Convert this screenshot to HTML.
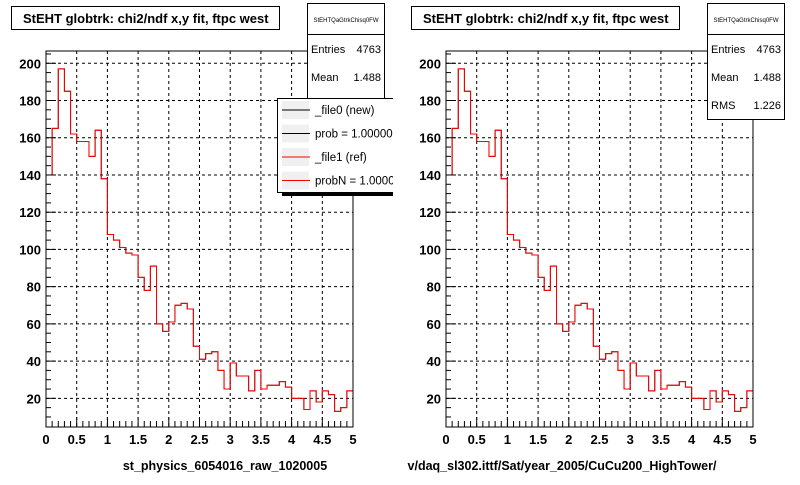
<!DOCTYPE html>
<html><head><meta charset="utf-8"><style>
body{margin:0;background:#fff;width:800px;height:480px;overflow:hidden}
svg text{font-family:"Liberation Sans",Arial,sans-serif}
</style></head><body>
<svg id="c" width="800" height="480" xmlns="http://www.w3.org/2000/svg"></svg>
<script>
const binEdgesStart = 0, binWidth = 0.1;
const newValues = [140,165,197,185,162,158,158,150,164,138,108,105,101,98,97,85,78,91,60,56,61,70,71,68,48,41,44,45,35,25,39,32,32,24,35,25,27,27,29,26,20,20,14,24,18,24,22,13,15,24];
const refValues = [140,165,197,185,162,158,158,150,164,138,108,105,101,98,97,85,78,91,60,56,61,70,71,68,48,41,44,45,35,25,39,32,32,24,35,25,27,27,29,26,20,20,14,24,18,24,22,13,15,24];
const xTicks = [0,0.5,1,1.5,2,2.5,3,3.5,4,4.5,5];
const xTickLabels = ["0","0.5","1","1.5","2","2.5","3","3.5","4","4.5","5"];
const yTicks = [20,40,60,80,100,120,140,160,180,200];
const yTickLabels = ["20","40","60","80","100","120","140","160","180","200"];

const svg = document.getElementById('c');
const NS = 'http://www.w3.org/2000/svg';
function mk(tag, attrs, parent, text){
  const e = document.createElementNS(NS, tag);
  for (const k in attrs) e.setAttribute(k, attrs[k]);
  if (text !== undefined) e.textContent = text;
  (parent || svg).appendChild(e);
  return e;
}
function panel(ox, xlabel, labelX, showRMS, showLegend, idx){
  const g = mk('g', {});
  
  
  const L = ox + 46, R = ox + 353, T = 51, B = 427;
  const ymin = 4.6, ymax = 206.6;
  const xs = v => L + (v - 0) / 5 * (R - L);
  const ys = v => B - (v - ymin) / (ymax - ymin) * (B - T);
  xTicks.forEach(t => { if (t > 0 && t < 5) { const l = mk('line', {x1: xs(t), x2: xs(t), y1: T, y2: B, stroke: '#000', 'stroke-dasharray': '3,3', 'stroke-width': 1}, g);   } });
  yTicks.forEach(t => { const l = mk('line', {x1: L, x2: R, y1: ys(t), y2: ys(t), stroke: '#000', 'stroke-dasharray': '3,3', 'stroke-width': 1}, g);   });
  function path(vals, color, name){
    let d = 'M' + xs(binEdgesStart) + ',' + ys(vals[0]);
    vals.forEach((v, i) => {
      const x0 = xs(binEdgesStart + i * binWidth), x1 = xs(binEdgesStart + (i + 1) * binWidth);
      d += 'L' + x0 + ',' + ys(v) + 'L' + x1 + ',' + ys(v);
    });
    const p = mk('path', {d: d, fill: 'none', stroke: color, 'stroke-width': 1}, g);
    
    
  }
  path(newValues, '#000', 'histogram-new');
  path(refValues, '#f00', 'histogram-ref');
  const fr = mk('rect', {x: L, y: T, width: R - L, height: B - T, fill: 'none', stroke: '#000', 'stroke-width': 1}, g);
  
  
  for (let i = 0; i <= 50; i++) {
    const x = xs(i * 0.1), len = (i % 5 === 0) ? 10 : 6;
    mk('line', {x1: x, x2: x, y1: B, y2: B - len, stroke: '#000'}, g);
  }
  xTicks.forEach((t, i) => { const tx = mk('text', {x: xs(t), y: B + 17, 'font-size': 13, 'font-weight': 'bold', 'text-anchor': 'middle'}, g, xTickLabels[i]);   });
  for (let v = 10; v <= 205; v += 5) {
    const len = (v % 20 === 0) ? 10 : 5;
    mk('line', {x1: L, x2: L + len, y1: ys(v), y2: ys(v), stroke: '#000'}, g);
  }
  yTicks.forEach((t, i) => { const tx = mk('text', {x: L - 5, y: ys(t) + 5, 'font-size': 13, 'font-weight': 'bold', 'text-anchor': 'end'}, g, yTickLabels[i]);   });
  const xl = mk('text', {x: ox + labelX, y: 470, 'font-size': 12.5, 'font-weight': 'bold', 'text-anchor': 'middle', textLength: 0}, g, xlabel);
  xl.removeAttribute('textLength');
  
  
  const tb = mk('g', {}, g);
  
  
  mk('rect', {x: ox + 11.5, y: 6.5, width: 268, height: 23, fill: '#fff', stroke: '#000'}, tb);
  mk('text', {x: ox + 23, y: 23, 'font-size': 13, 'font-weight': 'bold'}, tb, 'StEHT globtrk: chi2/ndf x,y fit, ftpc west');
  const sb = mk('g', {}, g);
  
  
  const sh = showRMS ? 116 : 110;
  mk('rect', {x: ox + 307.5, y: 3.5, width: 77, height: sh, fill: '#fff', stroke: '#000'}, sb);
  mk('line', {x1: ox + 307.5, x2: ox + 384.5, y1: 34.5, y2: 34.5, stroke: '#000'}, sb);
  mk('text', {x: ox + 346, y: 22, 'font-size': 6, 'text-anchor': 'middle'}, sb, 'StEHTQaGtrkChisq0FW');
  mk('text', {x: ox + 311, y: 53, 'font-size': 11}, sb, 'Entries');
  mk('text', {x: ox + 381, y: 53, 'font-size': 11, 'text-anchor': 'end'}, sb, '4763');
  mk('text', {x: ox + 311, y: 81, 'font-size': 11}, sb, 'Mean');
  mk('text', {x: ox + 381, y: 81, 'font-size': 11, 'text-anchor': 'end'}, sb, '1.488');
  if (showRMS) {
    mk('text', {x: ox + 311, y: 109, 'font-size': 11}, sb, 'RMS');
    mk('text', {x: ox + 381, y: 109, 'font-size': 11, 'text-anchor': 'end'}, sb, '1.226');
  }
  if (showLegend) {
    const lg = mk('g', {}, g);
    
    
    mk('rect', {x: ox + 282, y: 192, width: 112, height: 4, fill: '#000'}, lg);
    mk('rect', {x: ox + 277.5, y: 98.5, width: 120, height: 94, fill: '#fff', stroke: '#000'}, lg);
    const items = [['_file0 (new)', '#000'], ['prob = 1.000000', '#000'], ['_file1 (ref)', '#f00'], ['probN = 1.000000', '#f00']];
    items.forEach((it, i) => {
      const y = 110 + i * 23.5;
      const e = mk('g', {}, lg);
      
      
      mk('rect', {x: ox + 282, y: y - 9, width: 27, height: 18, fill: '#f0f0f0'}, e);
      mk('line', {x1: ox + 282, x2: ox + 310, y1: y, y2: y, stroke: it[1]}, e);
      mk('text', {x: ox + 315, y: y + 4, 'font-size': 11.5}, e, it[0]);
    });
  }
}
panel(0, 'st_physics_6054016_raw_1020005', 225, false, true, 1);
panel(400, 'v/daq_sl302.ittf/Sat/year_2005/CuCu200_HighTower/', 162, true, false, 2);
const cv = mk('rect', {x: 393, y: 95, width: 14, height: 105, fill: '#fff'});


</script>
</body></html>
